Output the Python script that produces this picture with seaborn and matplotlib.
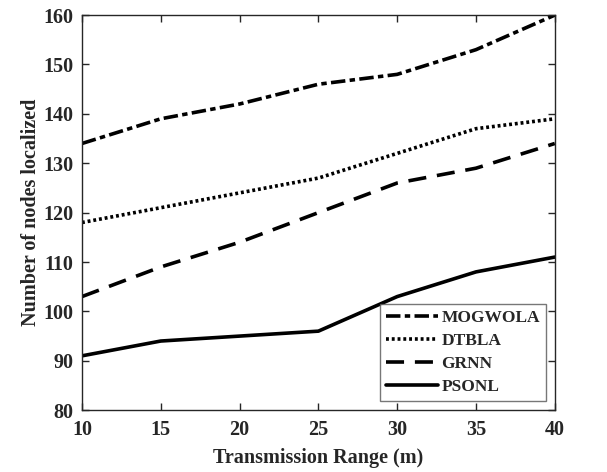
import pandas as pd
import seaborn as sns
import matplotlib.pyplot as plt

ranges = [10, 15, 20, 25, 30, 35, 40]
mogwola = [134, 139, 142, 146, 148, 153, 160]
dtbla = [118, 121, 124, 127, 132, 137, 139]
grnn = [103, 109, 114, 120, 126, 129, 134]
psonl = [91, 94, 95, 96, 103, 108, 111]

methods = ["MOGWOLA", "DTBLA", "GRNN", "PSONL"]
df = pd.DataFrame({
    "range": ranges * 4,
    "nodes": mogwola + dtbla + grnn + psonl,
    "method": [m for m in methods for _ in ranges],
})

sns.set_style("ticks")
plt.rcParams['font.family'] = ['Liberation Serif', 'DejaVu Serif']
plt.rcParams['font.weight'] = 'bold'

fig = plt.figure(figsize=(6.07, 4.72), dpi=100)
ax = fig.add_axes([0.135, 0.131, 0.779, 0.837])

dashes = {
    "MOGWOLA": (4, 1.2, 1.5, 1.2),
    "DTBLA": (0.8, 0.8),
    "GRNN": (5, 3),
    "PSONL": "",
}
sns.lineplot(data=df, x="range", y="nodes", style="method", style_order=methods,
             dashes=dashes, color="black", linewidth=2.6, ax=ax)

ax.set_xlim(10, 40)
ax.set_ylim(80, 160)
ax.set_xticks(ranges)
ax.set_yticks(range(80, 161, 10))
ax.tick_params(direction="in", top=True, right=True, labelsize=14.5, length=5, width=1)
ax.tick_params(axis="x", pad=7)
ax.tick_params(axis="y", pad=6)
for lab in ax.get_xticklabels() + ax.get_yticklabels():
    lab.set_fontweight("bold")
for s in ax.spines.values():
    s.set_linewidth(1)
ax.set_xlabel("Transmission Range (m)", fontsize=14.5, fontweight="bold", labelpad=6)
ax.set_ylabel("Number of nodes localized", fontsize=14.5, fontweight="bold", labelpad=2)

leg = ax.legend(loc="lower right", fontsize=12.5, frameon=True, fancybox=False,
                handlelength=3.0, handletextpad=0.2, borderaxespad=0.5,
                borderpad=0.35, labelspacing=0.4,
                bbox_to_anchor=(1.0, 0.0))
leg.get_frame().set_edgecolor("#555555")
leg.get_frame().set_linewidth(1)
for t in leg.get_texts():
    t.set_fontweight("bold")

fig.savefig("out.png", dpi=100)
